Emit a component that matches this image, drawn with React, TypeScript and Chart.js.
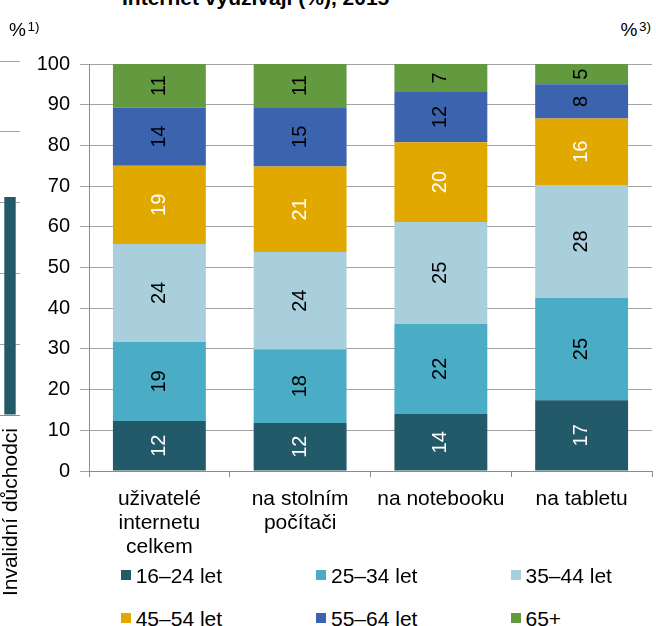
import React, { useEffect, useRef } from "react";
import { Chart, registerables } from "chart.js";

Chart.register(...registerables);

const FONT = '"Liberation Sans", Arial, Helvetica, sans-serif';

// ---- Data ----
const categories: string[][] = [
  ["uživatelé", "internetu", "celkem"],
  ["na stolním", "počítači"],
  ["na notebooku"],
  ["na tabletu"],
];
const seriesNames = ["16–24 let", "25–34 let", "35–44 let", "45–54 let", "55–64 let", "65+"];
const age16to24 = [12.3, 11.8, 14.0, 17.4];
const age25to34 = [19.4, 18.1, 22.2, 25.1];
const age35to44 = [24.1, 23.9, 25.0, 27.8];
const age45to54 = [19.2, 21.0, 19.6, 16.3];
const age55to64 = [14.3, 14.6, 12.3, 8.4];
const age65plus = [10.7, 10.6, 6.9, 5.0];
const seriesValues = [age16to24, age25to34, age35to44, age45to54, age55to64, age65plus];
const seriesColors = ["#235A69", "#4BACC6", "#A9CFDC", "#E1A900", "#3C63AD", "#649A3F"];
const labelColors = ["#ffffff", "#000000", "#000000", "#ffffff", "#000000", "#000000"];
const yTicks = { min: 0, max: 100, step: 10 };

// fragment of the neighbouring chart on the left edge
const sideCategories = ["Invalidní důchodci"];
const sideValues = [61.6];
const sideTicks = { min: 0, max: 100, step: 20 };

const barLabels = {
  id: "barLabels",
  afterDatasetsDraw(chart: any) {
    const ctx = chart.ctx;
    chart.data.datasets.forEach((ds: any, i: number) => {
      const meta = chart.getDatasetMeta(i);
      meta.data.forEach((bar: any, j: number) => {
        const v = ds.data[j];
        const p = bar.getProps(["x", "y", "base"], true);
        const cy = (p.y + p.base) / 2;
        ctx.save();
        ctx.translate(p.x, cy);
        ctx.rotate(-Math.PI / 2);
        ctx.font = `20px ${FONT}`;
        ctx.fillStyle = labelColors[i];
        ctx.textAlign = "center";
        ctx.textBaseline = "middle";
        ctx.fillText(String(Math.round(v)), 0, 0);
        ctx.restore();
      });
    });
  },
};

// rotated category labels for the side fragment, placed by the x scale
const rotatedCategoryLabels = {
  id: "rotatedCategoryLabels",
  afterDraw(chart: any) {
    const ctx = chart.ctx;
    const xs = chart.scales.x;
    const labels = chart.data.labels as string[];
    labels.forEach((lab, i) => {
      const x = xs.getPixelForTick(i);
      const y = xs.top + 13;
      ctx.save();
      ctx.translate(x + 1, y);
      ctx.rotate(-Math.PI / 2);
      ctx.font = `21px ${FONT}`;
      ctx.fillStyle = "#000";
      ctx.textAlign = "right";
      ctx.textBaseline = "middle";
      ctx.fillText(lab, 0, 0);
      ctx.restore();
    });
  },
};

function MainChart() {
  const ref = useRef<HTMLCanvasElement | null>(null);
  useEffect(() => {
    if (!ref.current) return;
    const chart = new Chart(ref.current, {
      type: "bar",
      data: {
        labels: categories as any,
        datasets: seriesNames.map((name, i) => ({
          label: name,
          data: seriesValues[i],
          backgroundColor: seriesColors[i],
          borderWidth: 0,
          barPercentage: 0.66,
          categoryPercentage: 1,
        })),
      },
      options: {
        responsive: true,
        maintainAspectRatio: false,
        animation: false,
        layout: { padding: { top: 24, right: 4, left: 0, bottom: 0 } },
        plugins: { legend: { display: false }, tooltip: { enabled: false } },
        scales: {
          x: {
            stacked: true,
            grid: { offset: true, drawOnChartArea: false, tickLength: 6, color: "#8c8c8c" },
            border: { color: "#8c8c8c" },
            ticks: {
              font: { size: 21, family: FONT, lineHeight: 1.14 },
              color: "#000",
              padding: 10,
              maxRotation: 0,
              minRotation: 0,
              autoSkip: false,
            },
            afterFit: (s: any) => {
              s.height = 110;
            },
          },
          y: {
            stacked: true,
            min: yTicks.min,
            max: yTicks.max,
            ticks: { stepSize: yTicks.step, font: { size: 20, family: FONT }, color: "#000", padding: 10 },
            grid: { color: "#a3a3a3", tickLength: 9 },
            border: { color: "#8c8c8c" },
            afterFit: (s: any) => {
              s.width = 89;
            },
          },
        },
      } as any,
      plugins: [barLabels],
    });
    return () => chart.destroy();
  }, []);
  return (
    <div style={{ position: "absolute", left: 0, top: 40, width: 656, height: 541 }}>
      <canvas ref={ref} />
    </div>
  );
}

function SideChart() {
  const ref = useRef<HTMLCanvasElement | null>(null);
  useEffect(() => {
    if (!ref.current) return;
    const chart = new Chart(ref.current, {
      type: "bar",
      data: {
        labels: sideCategories,
        datasets: [
          {
            data: sideValues,
            backgroundColor: seriesColors[0],
            borderWidth: 0,
            barPercentage: 0.57,
            categoryPercentage: 1,
          },
        ],
      },
      options: {
        responsive: true,
        maintainAspectRatio: false,
        animation: false,
        layout: { padding: { top: 61, right: 0, left: 0, bottom: 0 } },
        plugins: { legend: { display: false }, tooltip: { enabled: false } },
        scales: {
          x: {
            grid: { display: false, drawTicks: false },
            border: { color: "#8c8c8c" },
            ticks: { display: false },
            afterFit: (s: any) => {
              s.height = 211;
            },
          },
          y: {
            min: sideTicks.min,
            max: sideTicks.max,
            ticks: { stepSize: sideTicks.step, display: false },
            grid: { color: "#a3a3a3", drawTicks: false },
            border: { display: false },
            afterFit: (s: any) => {
              s.width = 200;
            },
          },
        },
      } as any,
      plugins: [rotatedCategoryLabels],
    });
    return () => chart.destroy();
  }, []);
  return (
    <div style={{ position: "absolute", left: -200, top: 0, width: 220, height: 626 }}>
      <canvas ref={ref} />
    </div>
  );
}

function Txt(props: { x: number; baseline: number; size: number; bold?: boolean; children: React.ReactNode }) {
  const { x, baseline, size, bold, children } = props;
  return (
    <div
      style={{
        position: "absolute",
        left: x,
        top: baseline - 0.8465 * size,
        fontFamily: FONT,
        fontSize: size,
        lineHeight: `${size}px`,
        fontWeight: bold ? "bold" : "normal",
        color: "#000",
        whiteSpace: "nowrap",
      }}
    >
      {children}
    </div>
  );
}

export default function App() {
  const legendCols = [120.7, 316, 510.5];
  const legendRows = [583, 625.5];
  return (
    <div
      style={{
        position: "absolute",
        left: 0,
        top: 0,
        width: 656,
        height: 626,
        overflow: "hidden",
        background: "#fff",
      }}
    >
      <SideChart />
      <MainChart />
      <Txt x={122} baseline={4.5} size={21} bold>
        Internet využívají (%), 2015
      </Txt>
      <Txt x={9} baseline={36} size={19}>%</Txt>
      <Txt x={27.5} baseline={31} size={13.5}>1)</Txt>
      <Txt x={620.5} baseline={36} size={19}>%</Txt>
      <Txt x={639} baseline={31} size={13.5}>3)</Txt>
      {seriesNames.map((name, i) => {
        const col = i % 3;
        const row = Math.floor(i / 3);
        const x = legendCols[col];
        const b = legendRows[row];
        return (
          <React.Fragment key={name}>
            <div
              style={{
                position: "absolute",
                left: x,
                top: b - 13,
                width: 10,
                height: 10,
                background: seriesColors[i],
              }}
            />
            <Txt x={x + 15} baseline={b} size={21}>
              {name}
            </Txt>
          </React.Fragment>
        );
      })}
    </div>
  );
}
